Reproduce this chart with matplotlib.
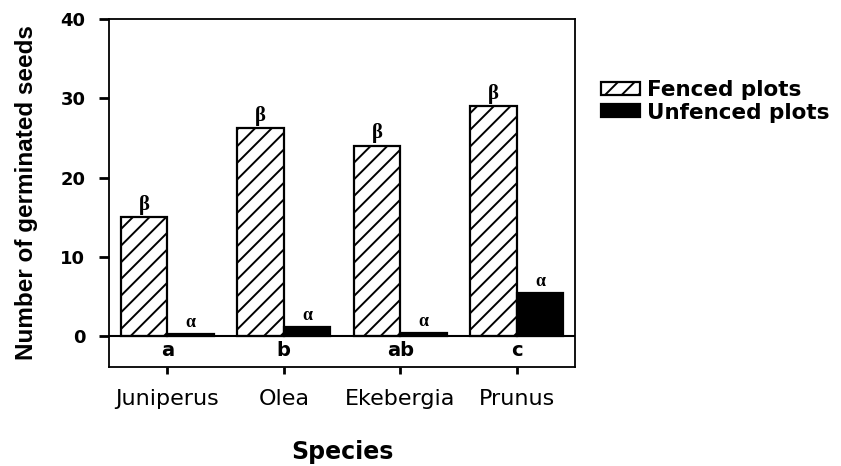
import matplotlib.pyplot as plt
import numpy as np
from matplotlib.patches import Patch

species = ["Juniperus", "Olea", "Ekebergia", "Prunus"]
fenced = [15.0, 26.2, 24.0, 29.0]
unfenced = [0.3, 1.1, 0.4, 5.4]
fenced_marks = ["\u03b2", "\u03b2", "\u03b2", "\u03b2"]
unfenced_marks = ["\u03b1", "\u03b1", "\u03b1", "\u03b1"]
species_letters = ["a", "b", "ab", "c"]

plt.rcParams['hatch.linewidth'] = 1.4
plt.rcParams['font.family'] = 'DejaVu Sans'

fig = plt.figure(figsize=(8.41, 4.66), dpi=100)
ax = fig.add_axes([109 / 841, 1 - 367 / 466, (575 - 109) / 841, (367 - 19) / 466])

x = np.arange(len(species))
w = 0.4
ax.bar(x - w / 2, fenced, w, facecolor='white', edgecolor='black',
       hatch='//', linewidth=1.6, label="Fenced plots")
ax.bar(x + w / 2, unfenced, w, facecolor='black', edgecolor='black',
       linewidth=1.6, label="Unfenced plots")

# significance letters
for i in range(len(species)):
    ax.text(x[i] - w / 2, fenced[i] + 0.3, fenced_marks[i], ha='center', va='bottom',
            fontsize=15, fontweight='bold', family='Liberation Serif')
    ax.text(x[i] + w / 2, unfenced[i] + 0.4, unfenced_marks[i], ha='center', va='bottom',
            fontsize=13, fontweight='bold', family='Liberation Serif')
    ax.text(x[i], -1.8, species_letters[i], ha='center', va='center',
            fontsize=14, fontweight='bold')

ax.axhline(0, color='black', linewidth=1.5)
ax.set_xlim(-0.5, 3.5)
ax.set_ylim(-3.9, 40)
ax.set_yticks([0, 10, 20, 30, 40])
ax.set_xticks(x)
ax.set_xticklabels(species, fontsize=16)
for t in ax.get_yticklabels():
    t.set_fontsize(13)
    t.set_fontweight('bold')
ax.tick_params(axis='y', direction='out', length=7, width=2, pad=10)
ax.tick_params(axis='x', direction='out', length=5, width=2, pad=11)
for s in ax.spines.values():
    s.set_linewidth(1.3)

ax.set_ylabel("Number of germinated seeds", fontsize=17.5, fontweight='bold',
              family='Liberation Sans', labelpad=16)
ax.set_xlabel("Species", fontsize=17, fontweight='bold', labelpad=22)

handles = [Patch(facecolor='white', edgecolor='black', hatch='//', linewidth=1.6),
           Patch(facecolor='black', edgecolor='black', linewidth=1.6)]
fig.legend(handles, ["Fenced plots", "Unfenced plots"], loc='upper left',
           bbox_to_anchor=(601 / 841, 1 - 80 / 466), frameon=False,
           borderaxespad=0, borderpad=0, handlelength=1.8, handleheight=0.55,
           handletextpad=0.35, labelspacing=0.12,
           prop={'size': 15.5, 'weight': 'bold'})

fig.savefig("out.png", dpi=100)
